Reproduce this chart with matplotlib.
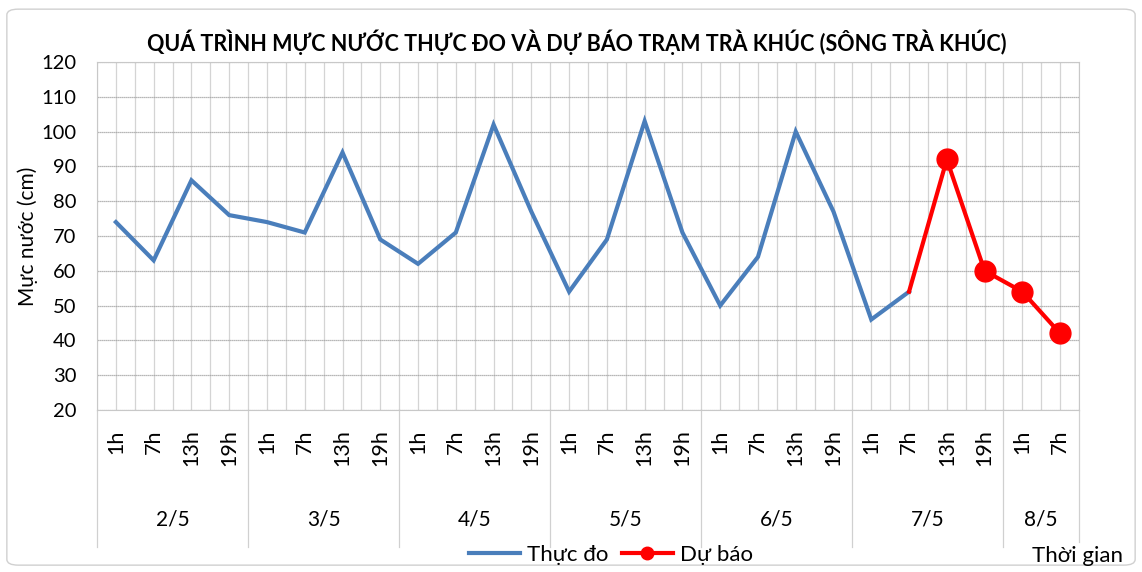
import numpy as np
import matplotlib
matplotlib.use("Agg")
import matplotlib.pyplot as plt
import matplotlib.transforms as mtransforms
from matplotlib.patches import FancyBboxPatch

plt.rcParams['font.family'] = ['Lato', 'Noto Sans', 'DejaVu Sans']

days = ['2/5', '3/5', '4/5', '5/5', '6/5', '7/5', '8/5']
hours_per_day = [4, 4, 4, 4, 4, 4, 2]
hour_names = ['1h', '7h', '13h', '19h']

# measured (Thực đo) - 22 values, 2/5 1h .. 7/5 7h
thuc_do = [74, 63, 86, 76,
           74, 71, 94, 69,
           62, 71, 102, 77,
           54, 69, 103, 71,
           50, 64, 100, 77,
           46, 54]
# forecast (Dự báo) - starts from last measured point 7/5 7h
du_bao = [54, 92, 60, 54, 42]

hour_labels = []
for n in hours_per_day:
    hour_labels += hour_names[:n]
n_cat = len(hour_labels)
x = np.arange(n_cat) + 0.5

fig = plt.figure(figsize=(11.42, 5.72), dpi=100)
ax = fig.add_axes([97 / 1142, 1 - 410 / 572, (1079 - 97) / 1142, (410 - 62) / 572])

# chart border
fig.patches.append(FancyBboxPatch((0.006, 0.012), 0.988, 0.972, boxstyle="round,pad=0,rounding_size=0.01",
                                  transform=fig.transFigure, fill=False, ec='#d0d0d0', lw=1.0))

ax.set_xlim(0, n_cat)
ax.set_ylim(20, 120)
ax.set_yticks(range(20, 121, 10))
ax.tick_params(axis='y', labelsize=14.5, length=0, pad=15)
ax.set_xticks(np.arange(0, n_cat + 0.01, 0.5))
ax.set_xticklabels([])
ax.tick_params(axis='x', length=0)
ax.grid(axis='y', color='#a0a0a0', lw=0.9, ls=(0, (1, 0.6)))
ax.grid(axis='x', color='#d4d4d4', lw=0.9)
ax.set_axisbelow(True)
for s in ax.spines.values():
    s.set_color('#c8c8c8')
    s.set_linewidth(0.8)

ax.plot(x[:len(thuc_do)], thuc_do, color='#4a7ebb', lw=3, label='Thực đo', solid_joinstyle='miter')
i0 = len(thuc_do) - 1
ax.plot(x[i0:i0 + len(du_bao)], du_bao, color='#ff0000', lw=3, marker='o', ms=15,
        markevery=list(range(1, len(du_bao))), label='Dự báo')

trans = mtransforms.blended_transform_factory(ax.transData, ax.transAxes)
for xi, lab in zip(x, hour_labels):
    ax.text(xi, -0.055, lab, rotation=90, ha='center', va='top', fontsize=15.5, transform=trans)

start = 0
for d, n in zip(days, hours_per_day):
    ax.text(start + n / 2, -0.315, d, ha='center', va='center', fontsize=15, transform=trans)
    ax.plot([start, start], [0, -0.395], color='#d0d0d0', lw=0.9, transform=trans, clip_on=False)
    start += n
ax.plot([start, start], [0, -0.38], color='#d0d0d0', lw=0.9, transform=trans, clip_on=False)

ax.set_ylabel('Mực nước (cm)', fontsize=15, labelpad=2)
fig.text(0.505, 1 - 42 / 572, 'QUÁ TRÌNH MỰC NƯỚC THỰC ĐO VÀ DỰ BÁO TRẠM TRÀ KHÚC (SÔNG TRÀ KHÚC)',
         ha='center', va='center', fontsize=15.5, fontweight='bold')
fig.text(1032 / 1142, 1 - 556 / 572, 'Thời gian', ha='left', va='center', fontsize=16)

fig.legend(loc='center', bbox_to_anchor=(0.535, 1 - 555 / 572), ncol=2, frameon=False,
           fontsize=16, handlelength=2.3, columnspacing=0.6, handletextpad=0.3, markerscale=0.6)

fig.savefig('out.png', dpi=100)
